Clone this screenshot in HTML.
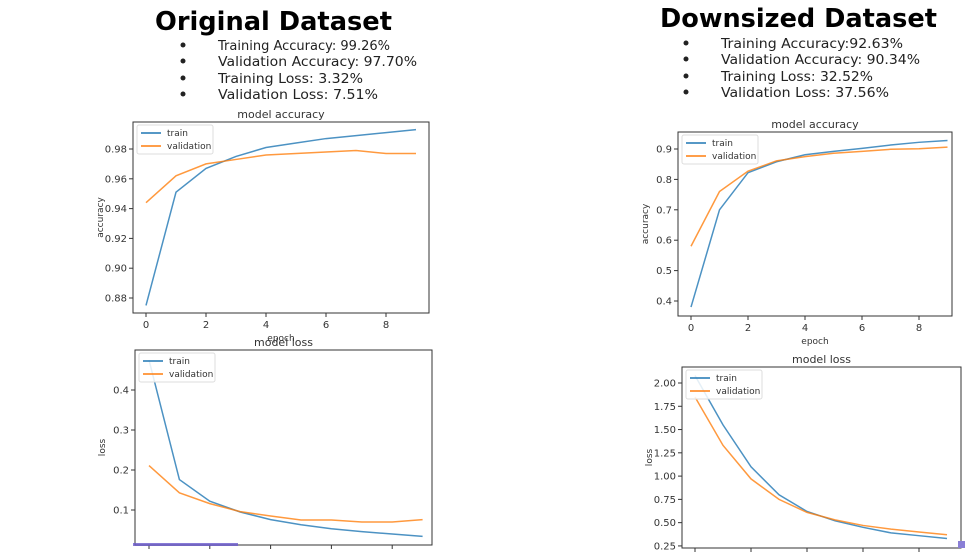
<!DOCTYPE html>
<html><head><meta charset="utf-8"><style>
html,body{margin:0;padding:0;background:#fff;}
svg{display:block;font-family:"DejaVu Sans","Liberation Sans",sans-serif;}
</style></head><body>
<svg id="s" width="965" height="557" viewBox="0 0 965 557" xmlns="http://www.w3.org/2000/svg">
<g>
<text x="155" y="30" font-size="26" font-weight="bold" textLength="237" lengthAdjust="spacingAndGlyphs">Original Dataset</text>
<g font-size="13.5" fill="#222">
<circle cx="183" cy="45" r="2.5"/><text x="218" y="50" textLength="172" lengthAdjust="spacingAndGlyphs">Training Accuracy: 99.26%</text>
<circle cx="183" cy="61" r="2.5"/><text x="218" y="66" textLength="199" lengthAdjust="spacingAndGlyphs">Validation Accuracy: 97.70%</text>
<circle cx="183" cy="78" r="2.5"/><text x="218" y="83" textLength="145" lengthAdjust="spacingAndGlyphs">Training Loss: 3.32%</text>
<circle cx="183" cy="94" r="2.5"/><text x="218" y="99" textLength="160" lengthAdjust="spacingAndGlyphs">Validation Loss: 7.51%</text>
</g></g>
<g>
<text x="660" y="27" font-size="26" font-weight="bold" textLength="277" lengthAdjust="spacingAndGlyphs">Downsized Dataset</text>
<g font-size="13.5" fill="#222">
<circle cx="686" cy="43" r="2.5"/><text x="721" y="48" textLength="182" lengthAdjust="spacingAndGlyphs">Training Accuracy:92.63%</text>
<circle cx="686" cy="59" r="2.5"/><text x="721" y="64" textLength="199" lengthAdjust="spacingAndGlyphs">Validation Accuracy: 90.34%</text>
<circle cx="686" cy="76" r="2.5"/><text x="721" y="81" textLength="152" lengthAdjust="spacingAndGlyphs">Training Loss: 32.52%</text>
<circle cx="686" cy="92" r="2.5"/><text x="721" y="97" textLength="168" lengthAdjust="spacingAndGlyphs">Validation Loss: 37.56%</text>
</g></g>
</svg>
<script>
const epochs=[0,1,2,3,4,5,6,7,8,9];
const origAccTrain=[0.875,0.951,0.967,0.975,0.981,0.984,0.987,0.989,0.991,0.993];
const origAccVal=[0.944,0.962,0.970,0.973,0.976,0.977,0.978,0.979,0.977,0.977];
const origAccTicks=[0.88,0.90,0.92,0.94,0.96,0.98];
const origLossTrain=[0.475,0.176,0.122,0.095,0.076,0.063,0.053,0.046,0.040,0.034];
const origLossVal=[0.211,0.143,0.116,0.096,0.085,0.075,0.075,0.070,0.070,0.076];
const origLossTicks=[0.1,0.2,0.3,0.4];
const downAccTrain=[0.38,0.70,0.822,0.858,0.881,0.892,0.902,0.913,0.922,0.928];
const downAccVal=[0.58,0.76,0.827,0.861,0.875,0.886,0.892,0.899,0.901,0.906];
const downAccTicks=[0.4,0.5,0.6,0.7,0.8,0.9];
const downLossTrain=[2.08,1.55,1.10,0.80,0.62,0.52,0.45,0.39,0.36,0.33];
const downLossVal=[1.85,1.33,0.97,0.75,0.61,0.53,0.47,0.43,0.40,0.37];
const downLossTicks=[0.25,0.50,0.75,1.00,1.25,1.50,1.75,2.00];
const xTickLabels=[0,2,4,6,8];

const NS='http://www.w3.org/2000/svg';
const svg=document.getElementById('s');
function mk(tag,attrs,parent,txt){const e=document.createElementNS(NS,tag);for(const k in attrs)e.setAttribute(k,attrs[k]);if(txt!==undefined)e.textContent=txt;parent.appendChild(e);return e;}

function chart(c){
  const g=mk('g',{},svg);
  
  
  const xs=e=>c.x0+e*c.xstep;
  const ys=v=>c.yref+(c.vref-v)*c.ypx;
  mk('rect',{x:c.l,y:c.t,width:c.r-c.l,height:c.b-c.t,fill:'none',stroke:'#333','stroke-width':1},g);
  const tt=mk('text',{x:(c.l+c.r)/2,y:c.t-4,'font-size':11,'text-anchor':'middle',fill:'#333'},g,c.title);
  
  
  c.yticks.forEach(v=>{const y=ys(v);
    mk('line',{x1:c.l-4,x2:c.l,y1:y,y2:y,stroke:'#333'},g);
    const t=mk('text',{x:c.l-6,y:y+3.5,'font-size':10,'text-anchor':'end',fill:'#333'},g,c.yfmt(v));
    
    
  });
  xTickLabels.forEach(v=>{const x=xs(v);
    mk('line',{x1:x,x2:x,y1:c.b,y2:c.b+4,stroke:'#333'},g);
    if(c.xlabels){const t=mk('text',{x:x,y:c.b+15,'font-size':10,'text-anchor':'middle',fill:'#333'},g,String(v));
      
      }
  });
  const yl=mk('text',{x:0,y:0,'font-size':9,'text-anchor':'middle',fill:'#333',transform:`translate(${c.l-30},${(c.t+c.b)/2}) rotate(-90)`},g,c.ylabel);
  
  
  if(c.xlabels){const xl=mk('text',{x:(c.l+c.r)/2,y:c.b+28,'font-size':9,'text-anchor':'middle',fill:'#333'},g,'epoch');
    
    }
  [[c.train,'#1f77b4','train-line'],[c.val,'#ff7f0e','validation-line']].forEach(([d,col,n])=>{
    const p=mk('polyline',{points:d.map((v,i)=>xs(epochs[i])+','+ys(v)).join(' '),fill:'none',stroke:col,'stroke-width':1.5,'stroke-opacity':0.8},g);
    
    
  });
  const lg=mk('g',{},g);
  
  
  const lx=c.l+4,ly=c.t+3;
  mk('rect',{x:lx,y:ly,width:76,height:29,fill:'#fff','fill-opacity':0.85,stroke:'#ddd',rx:2},lg);
  mk('line',{x1:lx+4,x2:lx+24,y1:ly+8,y2:ly+8,stroke:'#1f77b4','stroke-width':1.5},lg);
  mk('text',{x:lx+30,y:ly+11,'font-size':9,fill:'#333'},lg,'train');
  mk('line',{x1:lx+4,x2:lx+24,y1:ly+21,y2:ly+21,stroke:'#ff7f0e','stroke-width':1.5},lg);
  mk('text',{x:lx+30,y:ly+24,'font-size':9,fill:'#333'},lg,'validation');
}
chart({name:'original-accuracy-chart',title:'model accuracy',ylabel:'accuracy',l:133,r:429,t:122,b:313,x0:146,xstep:30,yref:149,vref:0.98,ypx:1490,yticks:origAccTicks,yfmt:v=>v.toFixed(2),train:origAccTrain,val:origAccVal,xlabels:true});
chart({name:'original-loss-chart',title:'model loss',ylabel:'loss',l:135,r:432,t:350,b:545,x0:149,xstep:30.4,yref:390,vref:0.4,ypx:400,yticks:origLossTicks,yfmt:v=>v.toFixed(1),train:origLossTrain,val:origLossVal,xlabels:false});
chart({name:'downsized-accuracy-chart',title:'model accuracy',ylabel:'accuracy',l:678,r:952,t:132,b:316,x0:691,xstep:28.5,yref:149,vref:0.9,ypx:304,yticks:downAccTicks,yfmt:v=>v.toFixed(1),train:downAccTrain,val:downAccVal,xlabels:true});
chart({name:'downsized-loss-chart',title:'model loss',ylabel:'loss',l:682,r:961,t:367,b:548,x0:695,xstep:28,yref:383,vref:2.0,ypx:93.1,yticks:downLossTicks,yfmt:v=>v.toFixed(2),train:downLossTrain,val:downLossVal,xlabels:false});
const bar=mk('rect',{x:133,y:543,width:105,height:3,fill:'#6a5acd','fill-opacity':0.8},svg);


const bar2=mk('rect',{x:958,y:541,width:7,height:7,fill:'#8a7fd6'},svg);


</script>
</body></html>
